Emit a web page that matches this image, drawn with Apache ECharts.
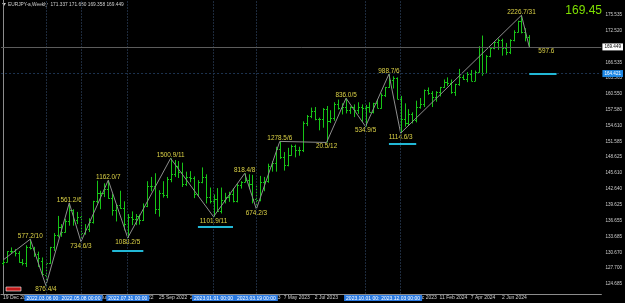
<!DOCTYPE html>
<html><head><meta charset="utf-8">
<script src="https://cdn.jsdelivr.net/npm/echarts@6/dist/echarts.min.js"></script>
<style>html,body{margin:0;padding:0;background:#000;}#c{width:625px;height:303px;}</style>
</head><body><div id="c"></div>
<script>
// Weekly EURJPY bars, week 0 = 19 Dec 2021
const opens = [128.6,128.9,130.9,131.0,130.5,128.9,128.7,131.6,131.5,130.4,129.0,126.4,128.7,131.6,133.9,135.4,134.6,136.5,138.6,136.7,
137.4,134.4,135.1,136.4,140.3,141.9,141.8,142.6,141.0,138.6,139.6,139.0,136.1,137.4,136.9,137.5,136.8,139.5,143.1,143.2,
138.9,141.8,141.5,144.5,145.5,147.0,145.9,143.6,144.9,144.7,141.6,144.0,144.9,141.1,140.3,140.7,138.5,140.6,141.2,141.6,
140.3,143.4,144.0,144.4,143.5,140.7,140.6,144.0,144.1,147.0,147.5,150.2,148.6,147.2,149.0,150.7,149.9,149.9,155.1,156.5,
157.4,155.9,155.9,157.7,155.5,156.1,158.7,158.0,158.1,157.6,158.1,157.6,158.1,157.9,158.1,157.2,158.8,158.0,160.3,161.8,
163.2,163.5,159.7,155.9,155.0,156.8,155.7,158.2,158.7,161.3,160.7,160.0,160.9,161.9,162.9,162.7,160.9,162.4,163.7,163.3,
164.4,163.1,164.7,169.4,164.6,167.8,169.2,170.3,170.7,169.3,168.4,170.8,172.3,174.3,172.2,171.337];
const highs = [129.3,130.9,131.6,131.3,130.9,129.4,132.0,133.15,131.7,130.8,129.7,128.9,131.7,134.3,137.54,136.0,137.0,140.00,138.8,138.3,
138.0,136.0,137.1,140.4,144.2,142.3,143.7,144.28,141.7,139.8,142.3,140.3,137.9,138.4,137.9,137.8,139.9,144.1,144.9,145.6,
142.4,144.1,144.9,148.41,148.1,147.9,147.6,145.9,146.0,145.0,144.3,146.7,145.4,142.9,141.6,142.8,142.9,141.9,142.1,142.8,
143.6,144.1,145.57,145.4,145.3,143.3,145.1,144.9,147.4,147.9,150.6,151.61,149.6,150.4,151.0,151.0,150.6,155.4,156.6,158.0,
158.1,156.1,157.9,158.3,157.5,159.0,159.5,158.8,159.77,158.2,158.6,159.0,158.6,158.5,159.0,158.9,159.6,160.7,161.9,164.31,
163.9,163.7,160.2,158.8,157.7,157.1,159.3,159.8,161.4,161.8,161.1,161.1,161.9,163.3,163.7,163.3,162.5,165.3,164.2,164.7,
165.1,165.0,169.6,171.6,167.9,169.2,170.4,171.0,171.0,170.2,170.9,172.6,174.4,175.43,173.0,171.680];
const lows = [128.2,128.8,130.4,129.9,128.7,128.2,127.9,131.2,129.8,127.9,126.4,124.39,128.5,130.9,133.5,133.6,134.4,135.7,135.7,136.0,
132.66,134.0,134.5,136.1,139.9,138.8,141.1,140.8,137.6,136.5,138.9,134.8,133.40,135.8,135.8,135.9,136.6,139.2,142.2,137.9,
137.4,141.0,140.9,143.9,144.9,144.7,143.0,143.2,143.9,140.9,141.2,143.7,139.9,139.9,137.39,138.3,138.0,139.9,140.2,140.1,
140.1,142.7,143.9,142.6,139.9,138.83,140.3,142.2,143.8,145.9,145.9,148.3,146.1,146.9,148.9,148.6,148.9,149.6,154.5,156.0,
155.6,153.7,154.2,151.41,155.1,155.5,157.6,156.7,156.9,156.8,156.2,156.8,155.3,154.42,157.1,156.9,157.9,157.8,160.0,161.7,
161.6,159.6,153.16,154.4,154.6,155.0,155.2,157.8,158.1,160.4,158.1,159.1,160.1,161.7,162.1,160.6,160.2,162.1,163.2,162.8,
163.0,163.0,164.6,164.0,164.4,167.5,169.0,168.9,167.8,167.9,168.1,170.5,172.2,172.0,170.5,169.358];
const closes = [128.9,130.9,131.0,130.5,128.9,128.7,131.6,131.5,130.4,129.6,126.6,128.7,131.6,133.9,135.4,134.6,136.5,138.6,136.7,137.4,
134.4,135.1,136.4,140.3,141.9,141.8,142.6,141.0,138.6,139.6,139.0,136.1,137.4,136.9,137.5,136.8,139.5,143.1,143.2,138.9,
141.8,141.5,144.5,145.5,147.0,145.9,143.6,144.9,144.7,141.6,144.0,144.9,141.1,140.3,140.7,138.5,140.6,141.2,141.6,140.3,
143.4,144.0,144.4,143.5,140.7,140.6,144.0,144.1,147.0,147.5,150.2,148.6,147.2,149.0,150.7,149.9,149.9,155.1,156.5,157.4,
155.9,155.9,157.7,155.5,156.1,158.7,158.0,158.1,157.6,158.1,157.6,158.1,157.9,158.1,157.2,158.8,158.0,160.3,161.8,163.2,
163.5,159.7,155.9,155.0,156.8,155.7,158.2,158.7,161.3,160.7,160.0,160.9,161.9,162.9,162.7,160.9,162.4,163.7,163.3,164.4,
163.1,164.7,169.4,164.6,167.8,169.2,170.3,170.7,169.3,168.4,170.8,172.3,174.3,172.2,171.3,169.449];

const xTickIndex = [0,8,16,24,32,40,48,56,64,72,80,88,96,104,112,120,128];
const xTickLabels = ['19 Dec 2021','13 Feb 2022','10 Apr 2022','5 Jun 2022','31 Jul 2022','25 Sep 2022','20 Nov 2022','15 Jan 2023','12 Mar 2023','7 May 2023','2 Jul 2023','27 Aug 2023','22 Oct 2023','17 Dec 2023','11 Feb 2024','7 Apr 2024','2 Jun 2024'];
const yTickLabels = [175.535,172.520,166.535,163.565,160.550,157.580,154.610,151.585,148.625,145.610,142.640,139.625,136.655,133.685,130.670,127.700,124.685];

const zigIndex = [0,7,11,17,20,27,32,43,54,62,65,71,83,88,93,99,102,133,135];
const zigPrice = [129.2,133.15,124.39,140.00,132.66,144.28,133.40,148.41,137.39,145.57,138.83,151.61,151.41,159.77,154.42,164.31,153.16,175.43,169.45];
const zigText = ['','577.2/10','876.4/4','1561.2/6','734.6/3','1162.0/7','1088.2/5','1500.9/11','1101.9/11','818.4/8','674.2/3','1278.5/6','20.5/12','836.0/5','534.9/5','988.7/6','1114.6/3','2226.7/31','597.6'];

const vlineIndex = [11,20,32,54,65,93,102];
const vlineText = ['2022.03.06 00:00','2022.05.08 00:00','2022.07.31 00:00','2023.01.01 00:00','2023.03.19 00:00','2023.10.01 00:00','2023.12.03 00:00'];

const cyanStart = [28,50,99,135];
const cyanEnd = [36,59,106,142];
const cyanPrice = [130.97,135.50,151.23,164.34];

const bidPrice = 169.449;
const levelPrice = 164.421;
const symbolTitle = 'EURJPY-a,Weekly  171.337 171.680 169.358 169.449';
const bigPrice = '169.45';

const FONT = 'Liberation Sans';
const barColor = '#17c417';
const chart = echarts.init(document.getElementById('c'), null, {renderer:'canvas'});

const ohlc = opens.map((o,i)=>[i,o,highs[i],lows[i],closes[i]]);
const zigData = zigIndex.map((x,k)=>{
  const isLow = k>0 && k<zigIndex.length-1 ? (zigPrice[k] < zigPrice[k-1]) : false;
  let label;
  if (k===0) label = {show:false};
  else if (k===zigIndex.length-1) label = {show:true, position:'right', distance:9, offset:[0,4]};
  else if (isLow) label = {show:true, position:'bottom', distance:1};
  else label = {show:true, position:'top', distance:0};
  return {value:[x, zigPrice[k]], label: Object.assign({formatter: zigText[k]}, label)};
});

const option = {
  backgroundColor:'#000000',
  animation:false,
  grid:{left:-2, right:22, top:0, bottom:9, containLabel:false},
  xAxis:{type:'value', min:-0.5, max:153.5,
    axisLine:{show:true, lineStyle:{color:'#8c8c8c', width:1}},
    axisTick:{show:false}, splitLine:{show:false},
    axisLabel:{customValues:xTickIndex, formatter:(v)=>{const k=xTickIndex.indexOf(Math.round(v)); return k>=0?xTickLabels[k]:'';},
      align:'left', color:'#cfcfcf', fontSize:5, fontFamily:FONT, margin:1}},
  yAxis:{type:'value', position:'right', min:122.80, max:178.31, scale:true,
    axisLine:{show:true, lineStyle:{color:'#8c8c8c', width:1}},
    axisTick:{show:false}, splitLine:{show:false},
    axisLabel:{customValues:yTickLabels, formatter:(v)=>v.toFixed(3), color:'#cfcfcf', fontSize:4.6, fontFamily:FONT, margin:4}},
  graphic:[
    {type:'polygon', shape:{points:[[2,3],[6,3],[4,6]]}, style:{fill:'#cfcfcf'}},
    {type:'text', left:8, top:2, style:{text:symbolTitle, fill:'#d0d0d0', font:'4.8px '+FONT}},
    {type:'text', right:23, top:5, style:{text:bigPrice, fill:'#7ee000', font:'12px '+FONT}},
    {type:'rect', shape:{x:6, y:287, width:15, height:4}, style:{fill:'#c01818', stroke:'#ffffff', lineWidth:0.6}}
  ],
  series:[
    {type:'custom', name:'bars', z:3,
     renderItem:(params, api)=>{
       const i = api.value(0);
       const o = api.coord([i, api.value(1)]);
       const h = api.coord([i, api.value(2)]);
       const l = api.coord([i, api.value(3)]);
       const c = api.coord([i, api.value(4)]);
       const x = Math.round(h[0]) + 0.5;
       const st = {stroke:barColor, lineWidth:1};
       return {type:'group', children:[
         {type:'line', shape:{x1:x, y1:h[1], x2:x, y2:l[1]}, style:st},
         {type:'line', shape:{x1:x-1.5, y1:Math.round(o[1])+0.5, x2:x, y2:Math.round(o[1])+0.5}, style:st},
         {type:'line', shape:{x1:x, y1:Math.round(c[1])+0.5, x2:x+1.5, y2:Math.round(c[1])+0.5}, style:st}
       ]};
     },
     encode:{x:0, y:[1,2,3,4]},
     data: ohlc},
    {type:'line', name:'zigzag', z:4, data: zigData, symbol:'circle', symbolSize:0.1, showAllSymbol:true,
     lineStyle:{color:'#8e8e8e', width:1}, itemStyle:{color:'#8e8e8e'},
     label:{color:'#dcd246', fontSize:6.4, fontFamily:FONT}},
    {type:'line', name:'marks', z:2, data:[],
     markLine:{silent:true, symbol:['none','none'], animation:false,
       data:[
         ...vlineIndex.map((v,k)=>({xAxis:v, lineStyle:{color:'#1d2a3c', type:[2,1], width:1},
           label:{show:true, position:'start', distance:1, formatter:vlineText[k], color:'#ffffff', backgroundColor:'#2a7ae2', fontSize:5, fontFamily:FONT, padding:[1,2,0,2]}})),
         {yAxis:bidPrice, lineStyle:{color:'#5c5c5c', type:'solid', width:1},
           label:{show:true, position:'end', distance:1, formatter:bidPrice.toFixed(3), color:'#000', backgroundColor:'#ffffff', fontSize:4.6, fontFamily:FONT, padding:[1,2,1,2]}},
         {yAxis:levelPrice, lineStyle:{color:'#1d3350', type:[2,2], width:1},
           label:{show:true, position:'end', distance:1, formatter:levelPrice.toFixed(3), color:'#ffffff', backgroundColor:'#1e88e5', fontSize:4.6, fontFamily:FONT, padding:[1,2,1,2]}},
         ...cyanPrice.map((p,k)=>[{coord:[cyanStart[k], p], lineStyle:{color:'#22b8d6', width:2, type:'solid'}, label:{show:false}},{coord:[cyanEnd[k], p]}])
       ]}}
  ]
};
chart.setOption(option);
</script></body></html>
